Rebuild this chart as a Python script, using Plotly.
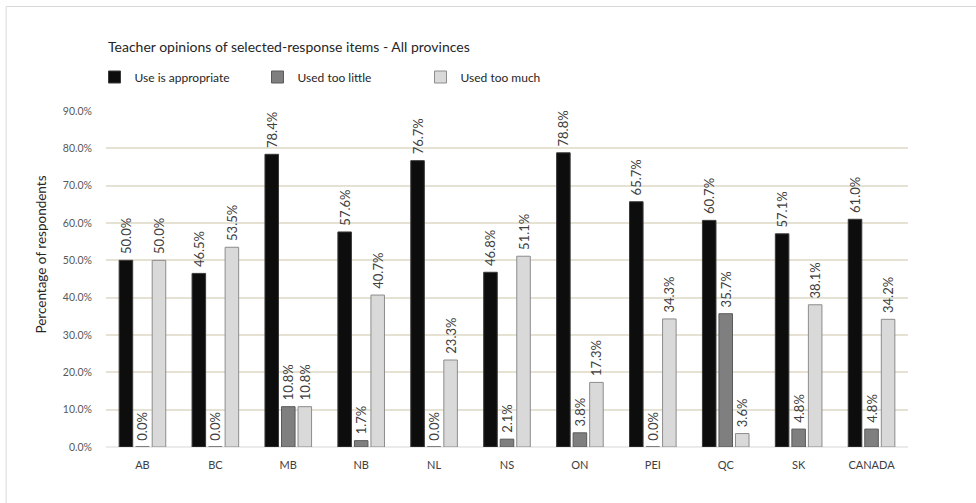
import plotly.graph_objects as go

# Survey results by province (percent of teachers)
provinces = ["AB", "BC", "MB", "NB", "NL", "NS", "ON", "PEI", "QC", "SK", "CANADA"]
use_appropriate = [50.0, 46.5, 78.4, 57.6, 76.7, 46.8, 78.8, 65.7, 60.7, 57.1, 61.0]
used_too_little = [0.0, 0.0, 10.8, 1.7, 0.0, 2.1, 3.8, 0.0, 35.7, 4.8, 4.8]
used_too_much = [50.0, 53.5, 10.8, 40.7, 23.3, 51.1, 17.3, 34.3, 3.6, 38.1, 34.2]
y_ticks = [0, 10, 20, 30, 40, 50, 60, 70, 80, 90]

W, H = 976, 503
ML, MR, MT, MB = 105.5, 67.5, 111, 56
PW, PH = W - ML - MR, H - MT - MB

FONT = "Lato, 'Open Sans', sans-serif"
LABEL_COLOR = "#404040"

series = [
    ("Use is appropriate", use_appropriate, "#0d0d0d", "#3a3a3a"),
    ("Used too little", used_too_little, "#7f7f7f", "#5a5a5a"),
    ("Used too much", used_too_much, "#d9d9d9", "#8c8c8c"),
]

fig = go.Figure()
for name, vals, fill, edge in series:
    fig.add_trace(go.Bar(
        name=name,
        x=provinces,
        y=vals,
        marker=dict(color=fill, line=dict(color=edge, width=1)),
        # leading no-break space lifts the rotated label off the bar top
        text=[f"\u00a0{v:.1f}%" for v in vals],
        textposition="outside",
        textangle=-90,
        constraintext="none",
        cliponaxis=False,
        textfont=dict(family=FONT, size=13, color=LABEL_COLOR),
        hovertemplate="%{x}: %{y:.1f}%<extra>" + name + "</extra>",
    ))


def px_x(px):
    return (px - ML) / PW


def px_y(py):
    return (H - MB - py) / PH


fig.update_layout(
    width=W,
    height=H,
    margin=dict(l=ML, r=MR, t=MT, b=MB, pad=0),
    paper_bgcolor="white",
    plot_bgcolor="white",
    barmode="group",
    bargap=0.32,
    bargroupgap=0.18,
    font=dict(family=FONT, color=LABEL_COLOR),
    title=dict(
        text="Teacher opinions of selected-response items - All provinces",
        x=108 / W,
        xanchor="left",
        y=1 - 47 / H,
        yanchor="middle",
        font=dict(family=FONT, size=14, color="#262626"),
    ),
    legend=dict(
        orientation="h",
        x=px_x(94),
        xanchor="left",
        y=px_y(77),
        yanchor="middle",
        font=dict(family=FONT, size=12, color="#262626"),
        entrywidth=118,
        entrywidthmode="pixels",
        itemwidth=30,
        bgcolor="rgba(0,0,0,0)",
        traceorder="normal",
    ),
    xaxis=dict(
        showgrid=False,
        showline=False,
        ticks="",
        tickfont=dict(family=FONT, size=11, color=LABEL_COLOR),
        ticklabelstandoff=10,
    ),
    yaxis=dict(
        range=[0, 90],
        tickvals=y_ticks,
        ticktext=[f"{t:.1f}%" for t in y_ticks],
        showgrid=True,
        gridcolor="#e6e2d3",
        gridwidth=1.5,
        zeroline=True,
        zerolinecolor="#ebebeb",
        zerolinewidth=2,
        showline=False,
        ticks="",
        ticklabelstandoff=13,
        tickfont=dict(family=FONT, size=10.5, color="#595959"),
    ),
    annotations=[
        dict(
            text="Percentage of respondents",
            xref="paper",
            yref="paper",
            x=px_x(40),
            y=px_y(255),
            xanchor="center",
            yanchor="middle",
            textangle=-90,
            showarrow=False,
            font=dict(family=FONT, size=13.5, color="#262626"),
        )
    ],
    shapes=[
        # chart frame (top and left edges fall inside the window)
        dict(
            type="rect",
            xref="paper",
            yref="paper",
            x0=px_x(5.5),
            x1=px_x(990),
            y0=px_y(515),
            y1=px_y(6.5),
            line=dict(color="#d9d9d9", width=1),
            fillcolor="rgba(0,0,0,0)",
            layer="below",
        )
    ],
)

fig.write_html("out.html")
